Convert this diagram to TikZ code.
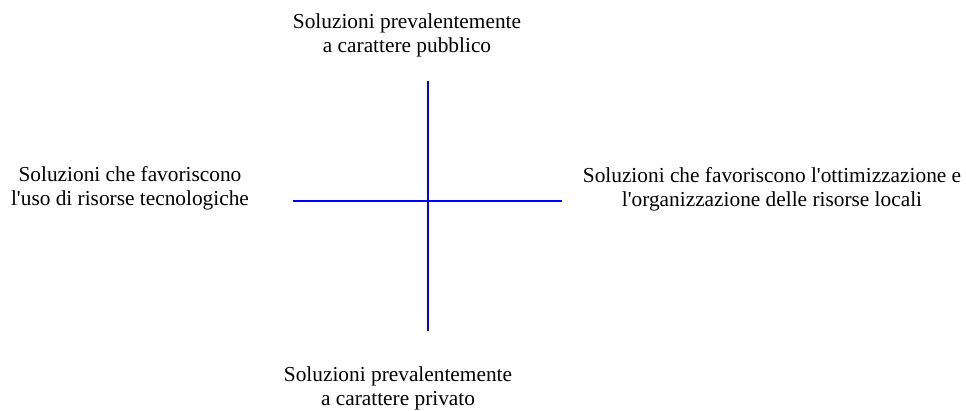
\documentclass[tikz,border=0pt]{standalone}
\usepackage{fontspec}
\setmainfont{Liberation Serif}[Ligatures=TeXOff]
\tikzset{
  etichetta/.style={align=center, inner sep=0pt, font=\fontsize{16}{18}\selectfont},
  asse/.style={draw=blue, line width=1.1pt}
}
\begin{document}
\begin{tikzpicture}[x=0.75pt,y=-0.75pt]
	\useasboundingbox (0,0) rectangle (966,410);

	% labels
	\node [etichetta] (pubblico) at (407,35) {Soluzioni prevalentemente\\a carattere pubblico};
	\node [etichetta] (privato) at (398,388) {Soluzioni prevalentemente\\a carattere privato};
	\node [etichetta] (tecnologie) at (130,188) {Soluzioni che favoriscono\\l'uso di risorse tecnologiche};
	\node [etichetta] (locali) at (772,189) {Soluzioni che favoriscono l'ottimizzazione e\\l'organizzazione delle risorse locali};

	% axis ends
	\coordinate (nord) at (428,81);
	\coordinate (sud) at (428,331);
	\coordinate (ovest) at (293,201);
	\coordinate (est) at (562,201);

	% axes
	\draw [asse] (nord) -- (sud);
	\draw [asse] (ovest) -- (est);
\end{tikzpicture}
\end{document}
